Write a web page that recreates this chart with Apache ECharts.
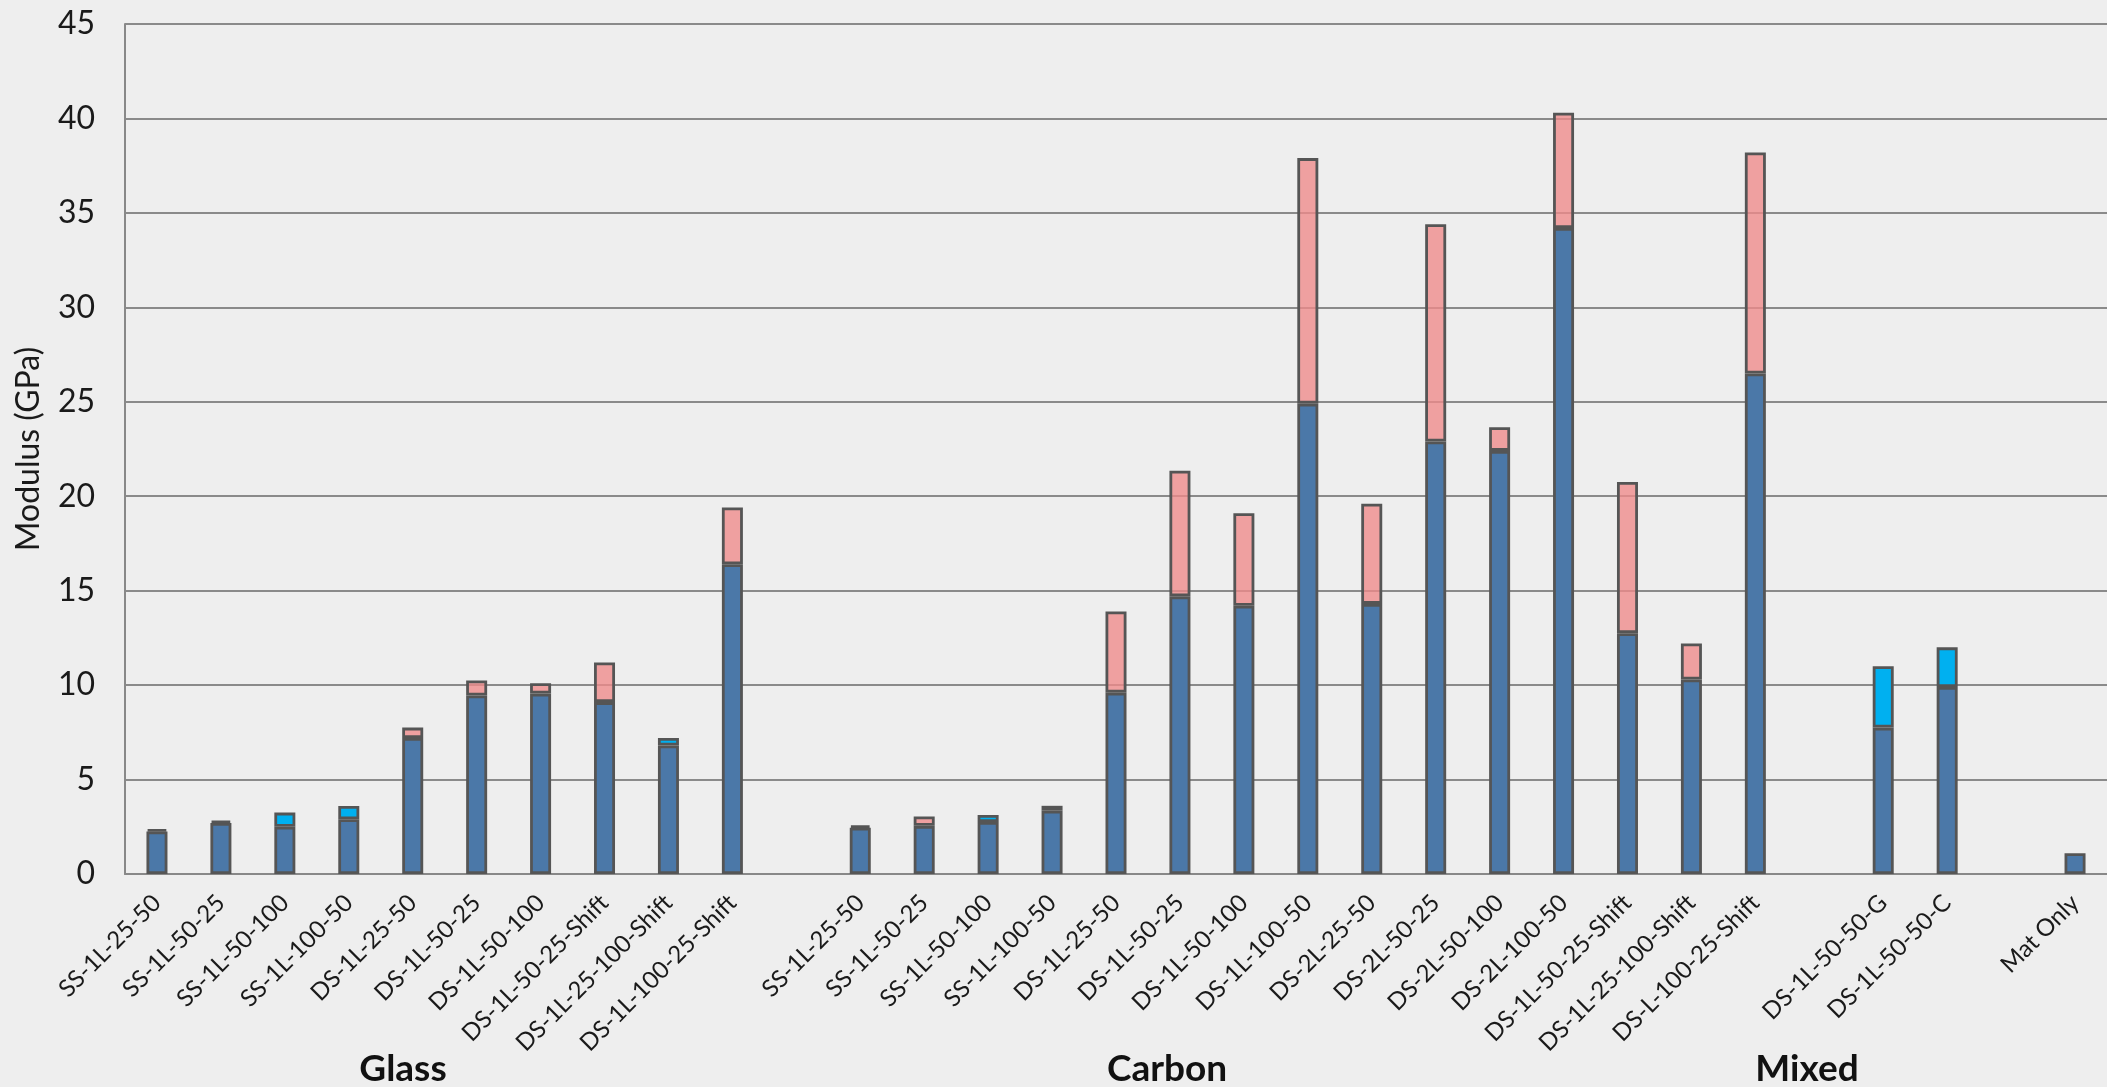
<!DOCTYPE html>
<html>
<head>
<meta charset="utf-8">
<title>Modulus by layup</title>
<script src="https://cdn.jsdelivr.net/npm/echarts@6/dist/echarts.min.js"></script>
<style>
  html, body { margin: 0; padding: 0; background: #eeeeee; }
  #chart { width: 2107px; height: 1087px; }
</style>
</head>
<body>
<div id="chart"></div>
<script>
// Specimen names; blank entries are spacer slots between material groups
const categories = [
  'SS-1L-25-50', 'SS-1L-50-25', 'SS-1L-50-100', 'SS-1L-100-50', 'DS-1L-25-50',
  'DS-1L-50-25', 'DS-1L-50-100', 'DS-1L-50-25-Shift', 'DS-1L-25-100-Shift', 'DS-1L-100-25-Shift',
  ' ',
  'SS-1L-25-50', 'SS-1L-50-25', 'SS-1L-50-100', 'SS-1L-100-50', 'DS-1L-25-50',
  'DS-1L-50-25', 'DS-1L-50-100', 'DS-1L-100-50', 'DS-2L-25-50', 'DS-2L-50-25',
  'DS-2L-50-100', 'DS-2L-100-50', 'DS-1L-50-25-Shift', 'DS-1L-25-100-Shift', 'DS-L-100-25-Shift',
  '  ',
  'DS-1L-50-50-G', 'DS-1L-50-50-C',
  '   ',
  'Mat Only'
];

// Base modulus (GPa)
const baseValues = [
  2.25, 2.7, 2.5, 2.9, 7.2, 9.45, 9.55, 9.1, 6.8, 16.4,
  null,
  2.45, 2.55, 2.75, 3.35, 9.6, 14.7, 14.2, 24.9, 14.3, 22.9,
  22.4, 34.2, 12.75, 10.3, 26.5,
  null,
  7.75, 9.9,
  null,
  1.1
];

// Additional modulus shown in pink (GPa)
const pinkValues = [
  0.12, 0.12, null, null, 0.55, 0.8, 0.55, 2.1, null, 3.0,
  null,
  0.12, 0.5, null, null, 4.3, 6.65, 4.9, 13.0, 5.3, 11.5,
  1.25, 6.1, 8.0, 1.9, 11.7,
  null,
  null, null,
  null,
  null
];

// Additional modulus shown in cyan (GPa)
const cyanValues = [
  null, null, 0.75, 0.7, null, null, null, null, 0.4, null,
  null,
  null, null, 0.38, 0.26, null, null, null, null, null, null,
  null, null, null, null, null,
  null,
  3.25, 2.1,
  null,
  null
];

const groupNames = ['Glass', 'Carbon', 'Mixed'];

const yMin = 0, yMax = 45, yStep = 5;

const FONT = 'Lato, "Open Sans", sans-serif';
const EDGE = '#555555';

const chart = echarts.init(document.getElementById('chart'), null, { renderer: 'canvas' });

const barStyle = (fill) => ({
  color: fill,
  borderColor: EDGE,
  borderWidth: 2.8
});

const groupX = [403, 1167, 1807];

chart.setOption({
  backgroundColor: '#eeeeee',
  animation: false,
  grid: { left: 125, top: 24, width: 1984, bottom: 213 },
  xAxis: {
    type: 'category',
    data: categories,
    axisLine: { lineStyle: { color: '#888888', width: 2 } },
    axisTick: { show: false },
    axisLabel: {
      interval: 0,
      rotate: 45,
      margin: 25,
      fontFamily: FONT,
      fontSize: 24,
      color: '#1a1a1a'
    },
    splitLine: { show: false }
  },
  yAxis: {
    type: 'value',
    min: yMin,
    max: yMax,
    interval: yStep,
    name: 'Modulus (GPa)',
    nameLocation: 'middle',
    nameGap: 80,
    nameTextStyle: { fontFamily: FONT, fontSize: 32, color: '#1a1a1a' },
    axisLine: { show: true, lineStyle: { color: '#888888', width: 2 } },
    axisTick: { show: false },
    axisLabel: { margin: 30, fontFamily: FONT, fontSize: 32, color: '#1a1a1a' },
    splitLine: { lineStyle: { color: '#8a8a8a', width: 2 } }
  },
  series: [
    {
      name: 'Base',
      type: 'bar',
      stack: 'modulus',
      barWidth: 21,
      data: baseValues,
      itemStyle: barStyle('#4b78a8')
    },
    {
      name: 'Pink',
      type: 'bar',
      stack: 'modulus',
      barWidth: 21,
      data: pinkValues,
      itemStyle: barStyle('rgba(240,138,138,0.78)')
    },
    {
      name: 'Cyan',
      type: 'bar',
      stack: 'modulus',
      barWidth: 21,
      data: cyanValues,
      itemStyle: barStyle('#00b0f0')
    }
  ],
  graphic: groupNames.map((name, i) => ({
    type: 'text',
    x: groupX[i],
    y: 1069,
    style: {
      text: name,
      fontFamily: FONT,
      fontSize: 37,
      fontWeight: 'bold',
      fill: '#111111',
      align: 'center',
      verticalAlign: 'middle'
    }
  }))
});
</script>
</body>
</html>
